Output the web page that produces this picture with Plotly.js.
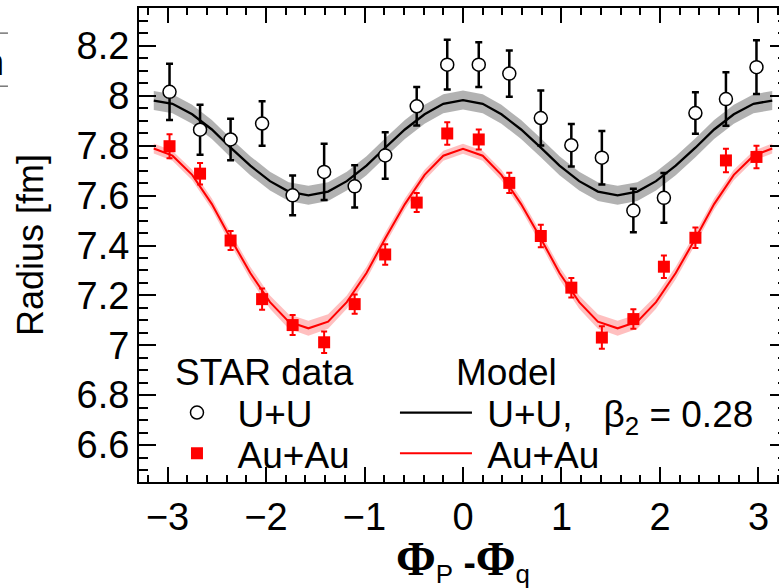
<!DOCTYPE html>
<html>
<head>
<meta charset="utf-8">
<script src="https://cdn.plot.ly/plotly-3.0.1.min.js"></script>
<style>
html,body{margin:0;padding:0;overflow:hidden;background:#fff;}
#chart{width:800px;height:588px;}
</style>
</head>
<body>
<div id="chart"></div>
<script>
// Phi_P - Phi_q bin centres (STAR data)
const phiData = [-2.98, -2.67, -2.36, -2.04, -1.73, -1.41, -1.10, -0.79, -0.47, -0.16,
                  0.16,  0.47,  0.79,  1.10,  1.41,  1.73,  2.04,  2.36,  2.67,  2.98];
// U+U radius [fm] and errors
const uuRadius = [8.016, 7.864, 7.825, 7.889, 7.601, 7.695, 7.637, 7.761, 7.958, 8.125,
                  8.125, 8.089, 7.911, 7.802, 7.752, 7.540, 7.591, 7.931, 7.987, 8.115];
const uuErr    = [0.113, 0.100, 0.083, 0.089, 0.080, 0.113, 0.085, 0.093, 0.077, 0.100,
                  0.090, 0.093, 0.110, 0.085, 0.107, 0.087, 0.100, 0.083, 0.107, 0.108];
// Au+Au radius [fm] and errors
const auRadius = [7.798, 7.688, 7.420, 7.185, 7.081, 7.012, 7.165, 7.364, 7.572, 7.849,
                  7.825, 7.651, 7.438, 7.231, 7.031, 7.105, 7.315, 7.431, 7.741, 7.755];
const auErr    = [0.048, 0.043, 0.038, 0.043, 0.040, 0.043, 0.039, 0.041, 0.038, 0.045,
                  0.040, 0.041, 0.045, 0.039, 0.045, 0.039, 0.045, 0.041, 0.047, 0.045];

// Model curves
const phiModel = [-3.14, -2.95, -2.75, -2.55, -2.36, -2.16, -1.96, -1.77, -1.57, -1.37, -1.18,
                  -0.98, -0.79, -0.59, -0.39, -0.20, 0.00, 0.20, 0.39, 0.59, 0.79, 0.98,
                   1.18, 1.37, 1.57, 1.77, 1.96, 2.16, 2.36, 2.55, 2.75, 2.95, 3.14];
const uuModel = [7.981, 7.968, 7.926, 7.865, 7.792, 7.720, 7.658, 7.616, 7.601, 7.616, 7.658,
                 7.720, 7.792, 7.865, 7.926, 7.968, 7.983, 7.968, 7.926, 7.865, 7.792, 7.720,
                 7.658, 7.616, 7.601, 7.616, 7.658, 7.720, 7.792, 7.865, 7.926, 7.968, 7.981];
const uuBand  = [0.038, 0.038, 0.038, 0.038, 0.038, 0.038, 0.038, 0.038, 0.038, 0.038, 0.038,
                 0.038, 0.038, 0.038, 0.038, 0.038, 0.038, 0.038, 0.038, 0.038, 0.038, 0.038,
                 0.038, 0.038, 0.038, 0.038, 0.038, 0.038, 0.038, 0.038, 0.038, 0.038, 0.038];
const auModel = [7.789, 7.760, 7.683, 7.566, 7.428, 7.290, 7.173, 7.095, 7.068, 7.095, 7.173,
                 7.290, 7.428, 7.566, 7.683, 7.760, 7.788, 7.760, 7.683, 7.566, 7.428, 7.290,
                 7.173, 7.095, 7.068, 7.095, 7.173, 7.290, 7.428, 7.566, 7.683, 7.760, 7.789];
const auBand  = [0.020, 0.020, 0.021, 0.022, 0.023, 0.025, 0.027, 0.029, 0.030, 0.029, 0.027,
                 0.025, 0.023, 0.022, 0.021, 0.020, 0.020, 0.020, 0.021, 0.022, 0.023, 0.025,
                 0.027, 0.029, 0.030, 0.029, 0.027, 0.025, 0.023, 0.022, 0.021, 0.020, 0.020];

const add = (a, b, s) => a.map((v, i) => v + s * b[i]);

const traces = [
  // U+U model band
  {x: phiModel, y: add(uuModel, uuBand, 1), mode: 'lines', line: {width: 0, color: 'rgba(0,0,0,0)'},
   showlegend: false, hoverinfo: 'skip'},
  {x: phiModel, y: add(uuModel, uuBand, -1), mode: 'lines', line: {width: 0, color: 'rgba(0,0,0,0)'},
   fill: 'tonexty', fillcolor: 'rgba(0,0,0,0.3)', showlegend: false, hoverinfo: 'skip'},
  {x: phiModel, y: uuModel, mode: 'lines', name: '&nbsp;U+U,   β<sub>2</sub> = 0.28',
   line: {color: 'black', width: 2.3}, legend: 'legend3'},
  // Au+Au data
  {x: phiData, y: auRadius, mode: 'markers', name: '&nbsp;&nbsp;Au+Au', legend: 'legend2',
   marker: {symbol: 'square', size: 12, color: 'red'},
   error_y: {type: 'data', array: auErr, color: 'red', thickness: 2, width: 3}},
  // Au+Au model band
  {x: phiModel, y: add(auModel, auBand, 1), mode: 'lines', line: {width: 0, color: 'rgba(0,0,0,0)'},
   showlegend: false, hoverinfo: 'skip'},
  {x: phiModel, y: add(auModel, auBand, -1), mode: 'lines', line: {width: 0, color: 'rgba(0,0,0,0)'},
   fill: 'tonexty', fillcolor: 'rgba(255,0,0,0.25)', showlegend: false, hoverinfo: 'skip'},
  {x: phiModel, y: auModel, mode: 'lines', name: '&nbsp;Au+Au',
   line: {color: 'red', width: 2}, legend: 'legend4'},
  // U+U data
  {x: phiData, y: uuRadius, mode: 'markers', name: '&nbsp;&nbsp;U+U', legend: 'legend',
   marker: {symbol: 'circle', size: 13, color: 'white', line: {color: 'black', width: 1.5}},
   error_y: {type: 'data', array: uuErr, color: 'black', thickness: 2.5, width: 3.5}}
];

const axisCommon = {
  showline: true, linewidth: 2, linecolor: 'black', mirror: 'ticks',
  ticks: 'inside', tickwidth: 2, tickcolor: 'black',
  showgrid: false, zeroline: false
};

const legendBase = (x, y, w) => ({x: x, y: y, xanchor: 'left', yanchor: 'top',
  bgcolor: 'rgba(0,0,0,0)', font: {size: 37}, itemwidth: w});

const layout = {
  width: 800, height: 588,
  margin: {l: 139, r: 13, t: 8, b: 106},
  paper_bgcolor: 'white', plot_bgcolor: 'white',
  font: {family: 'Liberation Sans, Arial, sans-serif', color: 'black', size: 36},
  xaxis: Object.assign({}, axisCommon, {
    range: [-3.29, 3.29], tickmode: 'linear', tick0: 0, dtick: 1, ticklen: 15,
    tickfont: {size: 38},
    minor: {tick0: 0, dtick: 0.2, ticks: 'inside', ticklen: 7, tickwidth: 2, tickcolor: 'black', showgrid: false},
    title: {text: "<span style='font-family:Liberation Serif;font-weight:bold;font-size:48px'>Φ</span><sub>P</sub> <b>-</b><span style='font-family:Liberation Serif;font-weight:bold;font-size:48px'>Φ</span><sub>q</sub>",
            font: {size: 37}, standoff: 4}
  }),
  yaxis: Object.assign({}, axisCommon, {
    range: [6.452, 8.352], tickmode: 'linear', tick0: 0, dtick: 0.2, ticklen: 17,
    tickfont: {size: 38},
    minor: {tick0: 0, dtick: 0.05, ticks: 'inside', ticklen: 9, tickwidth: 2, tickcolor: 'black', showgrid: false},
    title: {text: 'Radius [fm]', font: {size: 36}, standoff: 22}
  }),
  legend:  legendBase(0.0586, 0.2110, 30),
  legend2: legendBase(0.0586, 0.1250, 30),
  legend3: legendBase(0.395, 0.2110, 72),
  legend4: legendBase(0.395, 0.1250, 72),
  annotations: [
    {xref: 'paper', yref: 'paper', x: 0.053, y: 0.232, xanchor: 'left', yanchor: 'middle',
     text: 'STAR data', showarrow: false, font: {size: 37}},
    {xref: 'paper', yref: 'paper', x: 0.486, y: 0.232, xanchor: 'left', yanchor: 'middle',
     text: 'Model', showarrow: false, font: {size: 37}},
    {xref: 'paper', yref: 'paper', x: -0.2145, y: 0.886, xanchor: 'right', yanchor: 'middle',
     text: 'n', showarrow: false, font: {size: 36}, xshift: 6}
  ],
  shapes: [
    {type: 'line', xref: 'paper', yref: 'paper', x0: -0.2145, x1: -0.2022, y0: 0.947, y1: 0.947,
     line: {color: '#777', width: 1.5}},
    {type: 'line', xref: 'paper', yref: 'paper', x0: -0.2145, x1: -0.2022, y0: 0.835, y1: 0.835,
     line: {color: '#777', width: 1.5}}
  ]
};

Plotly.newPlot('chart', traces, layout, {displayModeBar: false, staticPlot: true});
</script>
</body>
</html>
